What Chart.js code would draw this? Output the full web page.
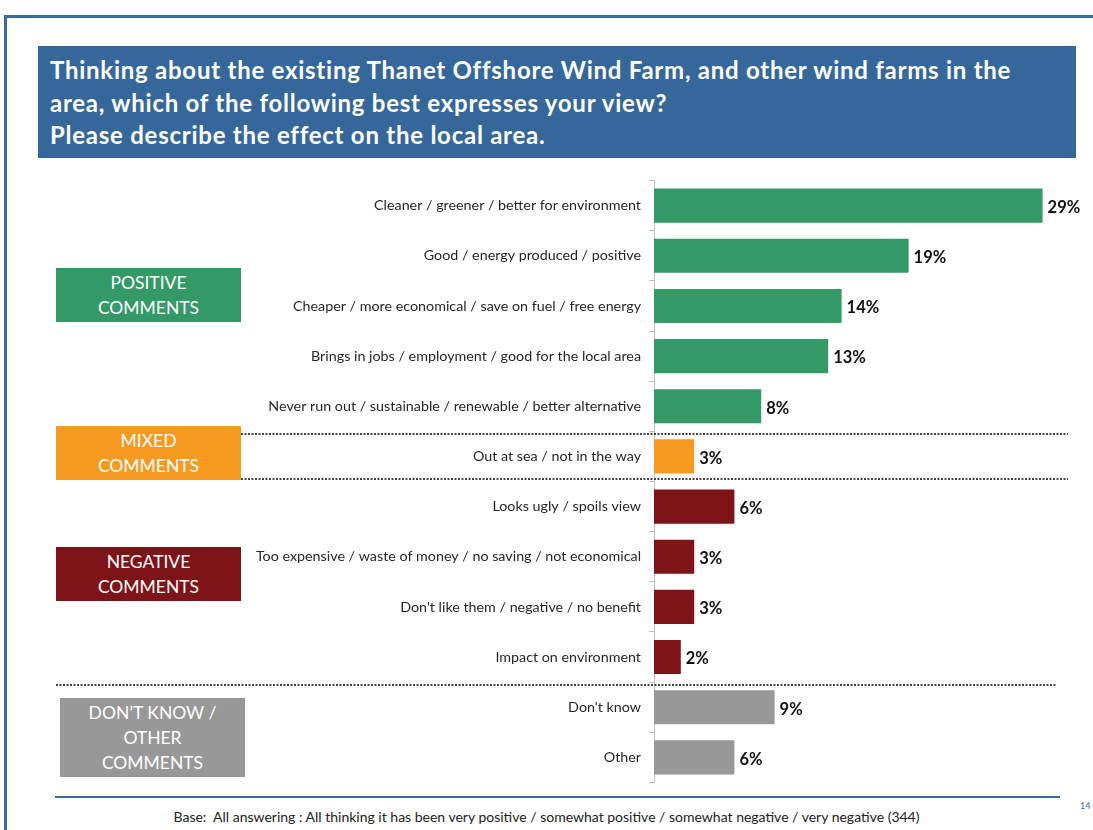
<!DOCTYPE html>
<html>
<head>
<meta charset="utf-8">
<script src="https://cdn.jsdelivr.net/npm/chart.js@4"></script>
<style>
  body { margin: 0; width: 1093px; height: 830px; position: relative; overflow: hidden; background: #fff; font-family: Lato, "Liberation Sans", sans-serif; }
  .frame { position: absolute; left: 4px; top: 15px; width: 1100px; height: 830px; border-top: 3px solid #3a6a9e; border-left: 3px solid #3a6a9e; }
  .header { position: absolute; left: 38px; top: 46px; width: 1026px; height: 104px; padding: 8px 0 0 12px; background: #35679a; color: #fff; font-weight: bold; font-size: 24px; letter-spacing: 0.75px; line-height: 32.5px; }
  .group { position: absolute; width: 185px; color: #fff; font-size: 17.5px; line-height: 25px; text-align: center; display: flex; align-items: center; justify-content: center; z-index: 2; }
  #chart { position: absolute; left: 0; top: 164px; }
  .rule { position: absolute; left: 55px; top: 796px; width: 1005px; height: 2px; background: #3a6a9e; z-index: 2; }
  .base { position: absolute; left: 0; width: 1093px; top: 808px; text-align: center; font-size: 14px; color: #222; }
  .page { position: absolute; left: 1080px; top: 800px; font-size: 9px; color: #3a6a9e; }
</style>
</head>
<body>
<div class="frame"></div>
<div class="header">Thinking about the existing Thanet Offshore Wind Farm, and other wind farms in the<br>area, which of the following best expresses your view?<br>Please describe the effect on the local area.</div>

<div class="group" style="left:56px;top:268px;height:54px;background:#339966;">POSITIVE<br>COMMENTS</div>
<div class="group" style="left:56px;top:426px;height:54px;background:#f79a21;">MIXED<br>COMMENTS</div>
<div class="group" style="left:56px;top:547px;height:54px;background:#7f1418;">NEGATIVE<br>COMMENTS</div>
<div class="group" style="left:60px;top:698px;height:79px;background:#989898;">DON’T KNOW /<br>OTHER<br>COMMENTS</div>

<canvas id="chart" width="1093" height="635"></canvas>

<div class="rule"></div>
<div class="base">Base:&nbsp; All answering : All thinking it has been very positive / somewhat positive / somewhat negative / very negative (344)</div>
<div class="page">14</div>

<script>
// Antworten (Prozent)
const categories = [
    'Cleaner / greener / better for environment',
    'Good / energy produced / positive',
    'Cheaper / more economical / save on fuel / free energy',
    'Brings in jobs / employment / good for the local area',
    'Never run out / sustainable / renewable / better alternative',
    'Out at sea / not in the way',
    'Looks ugly / spoils view',
    'Too expensive / waste of money / no saving / not economical',
    "Don't like them / negative / no benefit",
    'Impact on environment',
    "Don't know",
    'Other'
];
const values = [29, 19, 14, 13, 8, 3, 6, 3, 3, 2, 9, 6];
const groups = ['positive', 'positive', 'positive', 'positive', 'positive', 'mixed',
    'negative', 'negative', 'negative', 'negative', 'other', 'other'];

const groupColours = {
    positive: '#339966',
    mixed: '#f79a21',
    negative: '#7f1418',
    other: '#989898'
};

// Werte rechts neben den Balken
const valueLabels = {
    id: 'valueLabels',
    afterDatasetsDraw(chart) {
        const ctx = chart.ctx;
        ctx.save();
        ctx.font = 'bold 16.5px Lato, "Liberation Sans", sans-serif';
        ctx.fillStyle = '#111';
        ctx.textBaseline = 'middle';
        chart.getDatasetMeta(0).data.forEach((bar, i) => {
            ctx.fillText(values[i] + '%', bar.x + 5, bar.y + 2);
        });
        ctx.restore();
    }
};

// gepunktete Trennlinien zwischen den Gruppen
const separators = {
    id: 'separators',
    afterDraw(chart) {
        const ctx = chart.ctx;
        const y = chart.scales.y;
        const lines = [
            { after: 4, shift: 3, from: 241, to: 1068 },
            { after: 5, shift: -3, from: 241, to: 1068 },
            { after: 9, shift: 3, from: 56, to: 1057 }
        ];
        ctx.save();
        ctx.strokeStyle = '#444';
        ctx.lineWidth = 2;
        ctx.setLineDash([2, 1.5]);
        lines.forEach(l => {
            const py = Math.round((y.getPixelForValue(l.after) + y.getPixelForValue(l.after + 1)) / 2) + l.shift;
            ctx.beginPath();
            ctx.moveTo(l.from, py);
            ctx.lineTo(l.to, py);
            ctx.stroke();
        });
        ctx.restore();
    }
};

const ctx = document.getElementById('chart').getContext('2d');
const myChart = new Chart(ctx, {
    type: 'bar',
    data: {
        labels: categories,
        datasets: [{
            data: values,
            backgroundColor: groups.map(g => groupColours[g]),
            borderWidth: 0,
            barPercentage: 0.68,
            categoryPercentage: 1
        }]
    },
    options: {
        indexAxis: 'y',
        responsive: false,
        animation: false,
        devicePixelRatio: 1,
        layout: { padding: { top: 10, bottom: 8, right: 37, left: 0 } },
        plugins: {
            legend: { display: false },
            tooltip: { enabled: false }
        },
        scales: {
            x: {
                display: false,
                min: 0,
                max: 30
            },
            y: {
                afterFit: scale => { scale.width = 654; },
                grid: {
                    display: true,
                    drawOnChartArea: false,
                    drawTicks: true,
                    tickLength: 5,
                    color: '#bfbfbf',
                    offset: true
                },
                border: { display: true, color: '#bfbfbf', width: 1 },
                ticks: {
                    padding: 8,
                    color: '#262626',
                    font: { family: 'Lato, "Liberation Sans", sans-serif', size: 14.3 }
                }
            }
        }
    },
    plugins: [valueLabels, separators]
});
</script>
</body>
</html>
